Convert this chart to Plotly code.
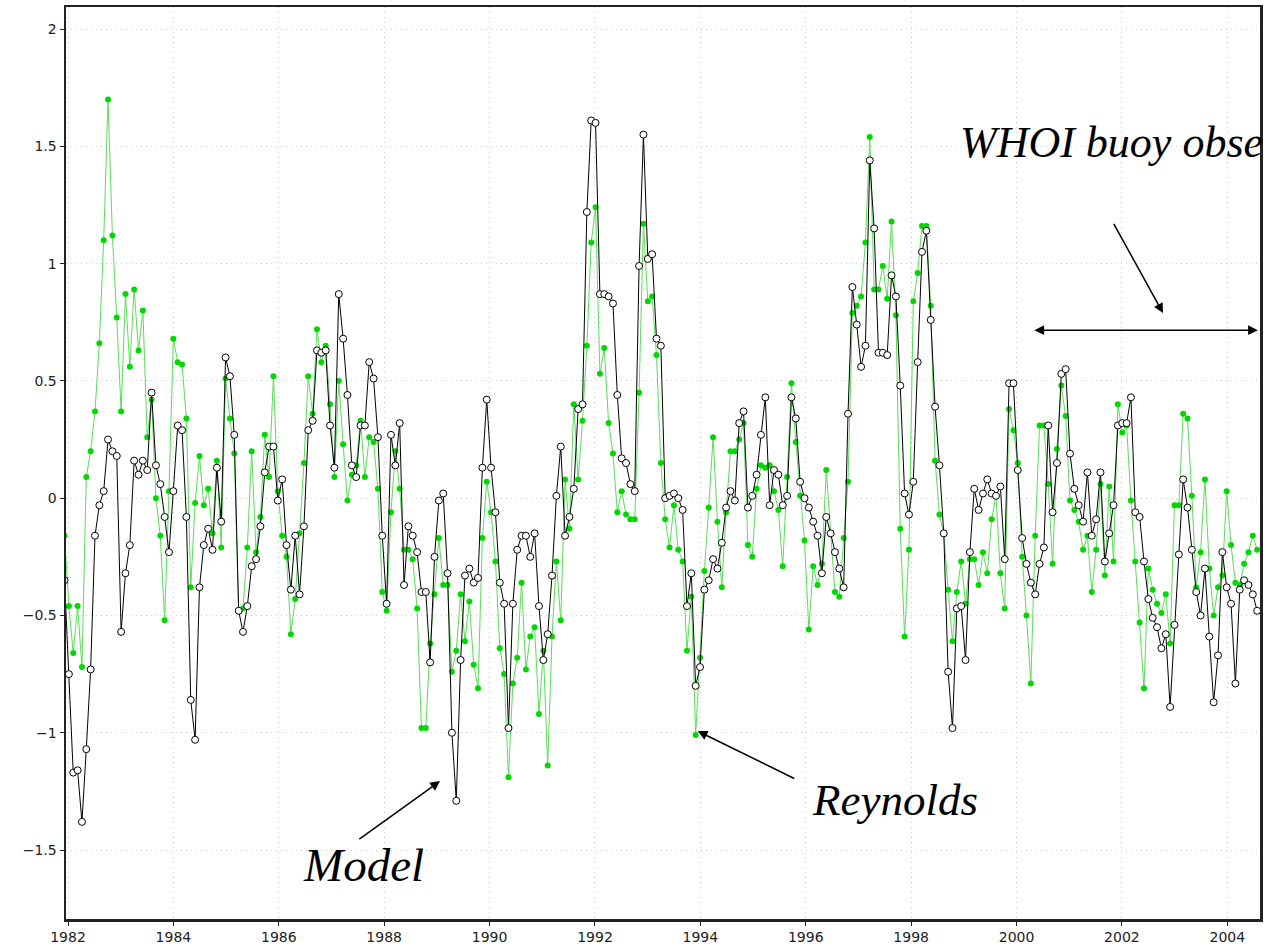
import plotly.graph_objects as go

# Model (black line, open circles) - monthly anomalies
model = [
    -0.35, -0.75, -1.17, -1.16, -1.38, -1.07, -0.73, -0.16, -0.03, 0.03,
    0.25, 0.20, 0.18, -0.57, -0.32, -0.20, 0.16, 0.10, 0.16, 0.12,
    0.45, 0.14, 0.06, -0.08, -0.23, 0.03, 0.31, 0.29, -0.08, -0.86,
    -1.03, -0.38, -0.20, -0.13, -0.22, 0.13, -0.10, 0.60, 0.52, 0.27,
    -0.48, -0.57, -0.46, -0.29, -0.26, -0.12, 0.11, 0.22, 0.22, -0.01,
    0.08, -0.20, -0.39, -0.16, -0.41, -0.12, 0.29, 0.33, 0.63, 0.62,
    0.63, 0.31, 0.13, 0.87, 0.68, 0.44, 0.14, 0.09, 0.31, 0.31,
    0.58, 0.51, 0.26, -0.16, -0.45, 0.27, 0.14, 0.32, -0.37, -0.12,
    -0.16, -0.23, -0.40, -0.40, -0.70, -0.25, -0.01, 0.02, -0.32, -1.00,
    -1.29, -0.69, -0.33, -0.30, -0.36, -0.34, 0.13, 0.42, 0.13, -0.06,
    -0.36, -0.45, -0.98, -0.45, -0.22, -0.16, -0.16, -0.25, -0.15, -0.46,
    -0.69, -0.58, -0.33, 0.01, 0.22, -0.16, -0.08, 0.04, 0.38, 0.40,
    1.22, 1.61, 1.60, 0.87, 0.87, 0.86, 0.83, 0.44, 0.17, 0.15,
    0.06, 0.03, 0.99, 1.55, 1.02, 1.04, 0.68, 0.65, 0.00, 0.01,
    0.02, 0.00, -0.05, -0.46, -0.32, -0.80, -0.72, -0.39, -0.35, -0.26,
    -0.30, -0.19, -0.04, 0.03, -0.01, 0.32, 0.37, -0.04, 0.01, 0.10,
    0.27, 0.43, -0.03, 0.12, 0.10, -0.03, 0.01, 0.43, 0.34, 0.07,
    0.00, -0.04, -0.10, -0.16, -0.32, -0.08, -0.15, -0.23, -0.30, -0.38,
    0.36, 0.90, 0.74, 0.56, 0.65, 1.44, 1.15, 0.62, 0.62, 0.61,
    0.95, 0.86, 0.48, 0.02, -0.07, 0.07, 0.58, 1.05, 1.14, 0.76,
    0.39, 0.14, -0.15, -0.74, -0.98, -0.47, -0.46, -0.69, -0.23, 0.04,
    -0.05, 0.02, 0.08, 0.02, 0.01, 0.05, -0.26, 0.49, 0.49, 0.12,
    -0.17, -0.28, -0.36, -0.41, -0.28, -0.21, 0.31, -0.06, 0.15, 0.53,
    0.55, 0.19, 0.04, -0.03, -0.10, 0.11, -0.16, -0.09, 0.11, -0.27,
    -0.15, -0.03, 0.31, 0.32, 0.32, 0.43, -0.06, -0.08, -0.27, -0.43,
    -0.51, -0.55, -0.64, -0.58, -0.89, -0.54, -0.24, 0.08, -0.04, -0.22,
    -0.40, -0.50, -0.30, -0.59, -0.87, -0.67, -0.23, -0.38, -0.45, -0.79,
    -0.39, -0.35, -0.37, -0.41, -0.48,
]

# Reynolds (green line, filled dots)
reynolds = [
    -0.16, -0.46, -0.66, -0.46, -0.72, 0.09, 0.20, 0.37, 0.66, 1.10,
    1.70, 1.12, 0.77, 0.37, 0.87, 0.56, 0.89, 0.63, 0.80, 0.26,
    0.42, 0.00, -0.16, -0.52, 0.03, 0.68, 0.58, 0.57, 0.34, -0.38,
    -0.02, 0.18, -0.03, 0.04, -0.15, 0.16, -0.21, 0.51, 0.34, 0.19,
    -0.48, -0.47, -0.21, 0.20, -0.23, -0.08, 0.27, 0.09, 0.52, 0.03,
    -0.16, -0.25, -0.58, -0.43, -0.15, 0.15, 0.52, 0.36, 0.72, 0.58,
    0.65, 0.40, 0.09, 0.50, 0.23, -0.01, 0.10, 0.14, 0.33, 0.09,
    0.26, 0.24, 0.04, -0.40, -0.48, -0.06, 0.20, 0.04, -0.22, -0.22,
    -0.26, -0.47, -0.98, -0.98, -0.62, -0.41, -0.17, -0.37, -0.37, -0.74,
    -0.65, -0.41, -0.61, -0.44, -0.71, -0.81, -0.17, 0.07, -0.06, -0.27,
    -0.64, -0.75, -1.19, -0.79, -0.68, -0.36, -0.73, -0.59, -0.55, -0.92,
    -0.65, -1.14, -0.59, -0.27, -0.52, 0.08, -0.13, 0.40, 0.08, 0.33,
    0.65, 1.09, 1.24, 0.53, 0.64, 0.32, 0.19, -0.06, 0.03, -0.07,
    -0.09, -0.09, 0.45, 1.17, 0.84, 0.86, 0.61, 0.15, -0.09, -0.21,
    -0.03, -0.22, -0.27, -0.65, -0.42, -1.01, -0.68, -0.31, -0.04, 0.26,
    -0.10, -0.38, -0.06, 0.20, 0.20, 0.25, 0.32, -0.20, -0.25, 0.04,
    0.14, 0.13, 0.14, 0.03, -0.05, -0.29, 0.09, 0.49, 0.24, 0.01,
    -0.18, -0.56, -0.29, -0.37, -0.28, 0.12, -0.15, -0.40, -0.42, -0.17,
    0.07, 0.79, 0.82, 0.86, 1.09, 1.54, 0.89, 0.89, 0.99, 0.85,
    1.18, 0.78, -0.13, -0.59, -0.22, 0.84, 0.96, 1.16, 1.16, 0.82,
    0.16, -0.07, -0.15, -0.39, -0.61, -0.40, -0.27, -0.45, -0.26, -0.26,
    -0.37, -0.23, -0.32, -0.09, 0.01, -0.32, -0.47, 0.38, 0.29, 0.15,
    -0.25, -0.50, -0.79, -0.16, 0.31, 0.31, 0.06, -0.28, 0.21, 0.48,
    0.35, -0.01, -0.05, -0.10, -0.22, -0.16, -0.40, -0.22, 0.06, -0.33,
    0.05, -0.27, 0.40, 0.28, 0.31, -0.01, -0.27, -0.53, -0.81, -0.30,
    -0.39, -0.45, -0.49, -0.41, -0.62, -0.03, -0.03, 0.36, 0.34, 0.01,
    -0.38, -0.23, 0.08, -0.30, -0.50, -0.38, -0.33, 0.03, -0.20, -0.36,
    -0.37, -0.28, -0.23, -0.16, -0.22,
]

# sample times (decimal years), one sample per (approximately) month as plotted
T0 = 1981.934
DT = 0.0826
times = [T0 + i * DT for i in range(len(model))]

x_ticks = [1982, 1984, 1986, 1988, 1990, 1992, 1994, 1996, 1998, 2000, 2002, 2004]
y_ticks = [-1.5, -1, -0.5, 0, 0.5, 1, 1.5, 2]
y_labels = ["\u22121.5", "\u22121", "\u22120.5", "0", "0.5", "1", "1.5", "2"]

fig = go.Figure()
fig.add_trace(go.Scatter(
    x=times, y=reynolds, mode="lines+markers", name="Reynolds",
    line=dict(color="#55e055", width=1),
    marker=dict(color="#00d800", size=6, line=dict(width=0)),
))
fig.add_trace(go.Scatter(
    x=times, y=model, mode="lines+markers", name="Model",
    line=dict(color="#000000", width=1),
    marker=dict(color="white", size=7, line=dict(color="black", width=1)),
))

serif = "Liberation Serif, Times New Roman, serif"

annotations = [
    dict(x=1987.60, y=-1.565, xref="x", yref="y", text="<i>Model</i>",
         showarrow=False, font=dict(family=serif, size=47, color="black")),
    dict(x=1989.06, y=-1.206, ax=1987.50, ay=-1.458, xref="x", yref="y",
         axref="x", ayref="y", text="", showarrow=True, arrowhead=2,
         arrowsize=1.3, arrowwidth=1.5, arrowcolor="black"),
    dict(x=1997.69, y=-1.285, xref="x", yref="y", text="<i>Reynolds</i>",
         showarrow=False, font=dict(family=serif, size=45, color="black")),
    dict(x=1993.95, y=-0.993, ax=1995.81, ay=-1.198, xref="x", yref="y",
         axref="x", ayref="y", text="", showarrow=True, arrowhead=2,
         arrowsize=1.3, arrowwidth=1.5, arrowcolor="black"),
    dict(x=1998.89, y=1.515, xref="x", yref="y", text="<i>WHOI buoy obse</i>",
         xanchor="left", showarrow=False, font=dict(family=serif, size=44, color="black")),
    dict(x=2002.78, y=0.789, ax=2001.83, ay=1.176, xref="x", yref="y",
         axref="x", ayref="y", text="", showarrow=True, arrowhead=2,
         arrowsize=1.3, arrowwidth=1.5, arrowcolor="black"),
    dict(x=2004.58, y=0.716, ax=2000.31, ay=0.716, xref="x", yref="y",
         axref="x", ayref="y", text="", showarrow=True, arrowhead=2,
         startarrowhead=2, arrowside="end+start", arrowsize=1.3,
         startarrowsize=1.3, arrowwidth=1.5, arrowcolor="black"),
]

tick_font = dict(family="DejaVu Sans, Arial, sans-serif", size=14, color="#222")

fig.update_layout(
    template="none",
    width=1268, height=946,
    margin=dict(l=66, r=8, t=7, b=27, pad=0),
    paper_bgcolor="white", plot_bgcolor="white",
    showlegend=False,
    hovermode=False,
    annotations=annotations,
    xaxis=dict(
        range=[1981.962, 2004.62], tickvals=x_ticks,
        ticktext=[str(v) for v in x_ticks], automargin=False,
        showgrid=True, gridcolor="#cfcfcf", griddash="1px,4px", gridwidth=1,
        showline=True, linecolor="#222", linewidth=2.5, mirror=True,
        ticks="outside", ticklen=4, tickcolor="#222", zeroline=False,
        tickfont=tick_font,
    ),
    yaxis=dict(
        range=[-1.794, 2.094], tickvals=y_ticks, ticktext=y_labels,
        automargin=False,
        showgrid=True, gridcolor="#cfcfcf", griddash="1px,4px", gridwidth=1,
        showline=True, linecolor="#222", linewidth=2.5, mirror=True,
        ticks="outside", ticklen=4, tickcolor="#222", zeroline=False,
        tickfont=tick_font,
    ),
)

fig.write_html(
    "out.html",
    config={"displayModeBar": False, "staticPlot": True},
    post_script="document.body.style.margin='0';document.body.style.overflow='hidden';",
)
